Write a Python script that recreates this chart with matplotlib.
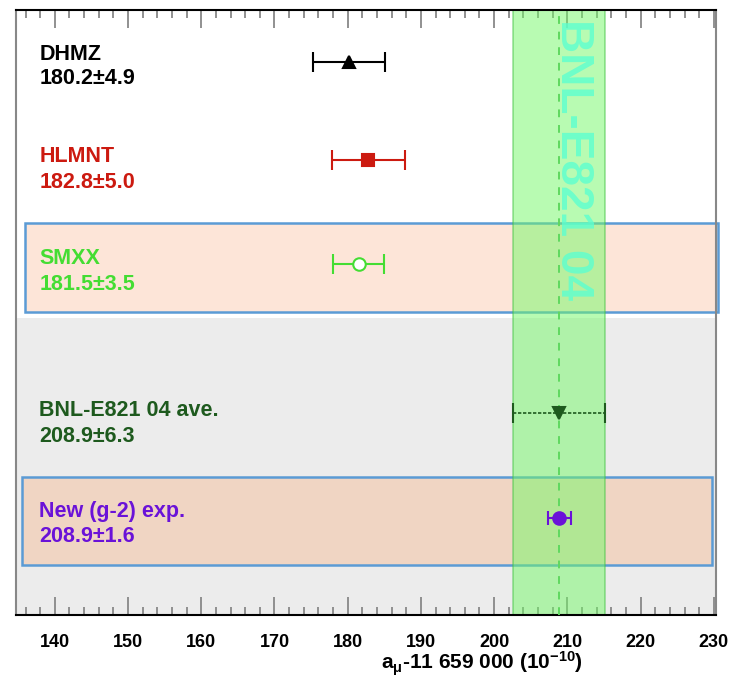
import numpy as np
import matplotlib.pyplot as plt
from matplotlib.patches import Rectangle
from matplotlib.transforms import blended_transform_factory
from matplotlib.ticker import MultipleLocator

plt.rcParams['font.family'] = ['Liberation Sans', 'DejaVu Sans']
plt.rcParams['mathtext.fontset'] = 'custom'
plt.rcParams['mathtext.rm'] = 'Liberation Sans:bold'
plt.rcParams['mathtext.it'] = 'Liberation Sans:bold'
plt.rcParams['mathtext.bf'] = 'Liberation Sans:bold'

# values
names = ['DHMZ', 'HLMNT', 'SMXX', 'BNL-E821 04 ave.', 'New (g-2) exp.']
centers = [180.2, 182.8, 181.5, 208.9, 208.9]
errors = [4.9, 5.0, 3.5, 6.3, 1.6]
colors = ['black', '#cc1a10', '#44dd33', '#1e5a1e', '#6a12d8']
markers = ['^', 's', 'o', 'v', 'o']
bnl_center = 208.9
bnl_error = 6.3

# layout (rows in pixel units from top of the axes region)
row_y = [62, 160, 264, 413, 518]
label_y = [[54, 79], [157, 182], [259, 284], [410, 436], [511, 537]]

fig = plt.figure(figsize=(7.33, 6.81), dpi=100)
ax = fig.add_axes([16 / 733, 66 / 681, 700 / 733, 605 / 681])
ax.set_xlim(134.7, 230.3)
ax.set_ylim(615, 10)

# grey lower region
ax.axhspan(318, 615, color='#ececec', zorder=0, lw=0)

# highlighted boxes
bt = blended_transform_factory(ax.transAxes, ax.transData)
ax.add_patch(Rectangle((0.013, 223), 0.99, 89, transform=bt, clip_on=False,
                       facecolor='#fde5d8', edgecolor='#5b9bd5', lw=1.8, zorder=1))
ax.add_patch(Rectangle((0.0086, 477), 0.986, 88, transform=bt, clip_on=False,
                       facecolor='#f0d5c3', edgecolor='#5b9bd5', lw=1.8, zorder=1))

# BNL band
ax.axvspan(bnl_center - bnl_error, bnl_center + bnl_error, facecolor='#73f967',
           alpha=0.5, edgecolor='#40c040', lw=1.2, zorder=2)
ax.axvline(bnl_center, color='#5fd85f', ls=(0, (4, 4)), lw=1.4, zorder=3)
ax.text(210.8, 19, 'BNL-E821 04', rotation=270, ha='center', va='top',
        fontsize=33, fontweight='bold', color='#5cffd0', alpha=0.8, zorder=3)

# points
for i in range(len(names)):
    fill = 'white' if i == 2 else colors[i]
    eb = ax.errorbar(centers[i], row_y[i], xerr=errors[i], fmt=markers[i],
                     color=colors[i], mfc=fill, mec=colors[i], ms=9 if i != 1 else 8,
                     mew=1.5, capsize=7, elinewidth=1.5, capthick=1.5, zorder=5)
    if i == 3:
        eb[2][0].set_linestyle((0, (2, 1)))
        eb[2][0].set_linewidth(1.2)
        for c in eb[1]:
            c.set_linestyle((0, (1.5, 1)))
    if i == 4:
        for c in eb[1]:
            c.set_linestyle((0, (2, 1.5)))
            c.set_markersize(10)
    ax.text(137.9, label_y[i][0], names[i], ha='left', va='center',
            fontsize=15.5, fontweight='bold', color=colors[i], zorder=6)
    ax.text(137.9, label_y[i][1], '%.1f\u00b1%.1f' % (centers[i], errors[i]),
            ha='left', va='center', fontsize=15.5, fontweight='bold',
            color=colors[i], zorder=6)

# axes styling
ax.set_yticks([])
ax.xaxis.set_minor_locator(MultipleLocator(2))
ax.set_xticks(np.arange(140, 231, 10))
ax.set_xticklabels([str(v) for v in range(140, 231, 10)], fontweight='bold')
ax.tick_params(axis='x', which='both', direction='in', top=True, bottom=True,
               color='#888888', width=1.3)
ax.tick_params(axis='x', which='major', length=13, labelsize=13, pad=14)
ax.tick_params(axis='x', which='minor', length=6)
ax.spines['top'].set_color('black')
ax.spines['bottom'].set_color('black')
ax.spines['left'].set_color('#888888')
ax.spines['right'].set_color('#888888')
for s in ax.spines.values():
    s.set_linewidth(1.5)

fig.text(482 / 733, 1 - 664 / 681, r'a$_\mu$-11 659 000 (10$^{-10}$)',
         ha='center', va='center', fontsize=15, fontweight='bold')

fig.savefig('out.png', dpi=100)
